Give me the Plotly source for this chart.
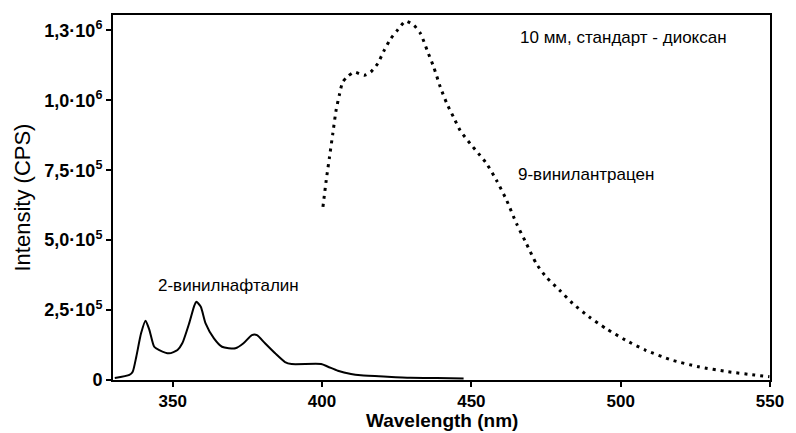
import plotly.graph_objects as go

# 2-vinylnaphthalene (solid)
vn_x = [330.6, 335.5, 336.6, 337.8, 339.4, 340.9, 342.2, 343.8, 345.5, 348.8, 351.6, 353.2,
        355.5, 357.1, 357.9, 359.4, 361.0, 363.8, 366.5, 371.0, 373.7, 376.5, 378.2, 380.9,
        384.3, 387.6, 389.8, 399.7, 402.0, 405.3, 409.7, 413.0, 421.9, 429.6, 438.5, 447.4]
vn_y = [7100, 17900, 29600, 83200, 166800, 211800, 178600, 118900, 107100, 95300, 107100, 131100,
        202500, 261800, 279600, 261800, 202500, 148900, 118900, 113200, 131100, 160700, 160700, 131100,
        95300, 64300, 57100, 57100, 47500, 33200, 21400, 16800, 11800, 8200, 7100, 5400]

# 9-vinylanthracene (dotted)
va_x = [400.3, 401.4, 402.5, 403.6, 404.7, 405.9, 406.9, 408.6, 410.8, 414.2, 416.3, 418.6,
        420.8, 423.0, 425.2, 428.0, 430.8, 433.0, 435.2, 437.4, 439.6, 441.8, 444.0, 446.2,
        449.6, 452.4, 455.1, 458.4, 461.8, 465.1, 468.4, 471.7, 475.0, 479.5, 483.9, 489.4,
        495.0, 501.6, 508.2, 517.1, 526.0, 535.9, 544.8, 549.8]
va_y = [618900, 714200, 797400, 881000, 964200, 1023800, 1065300, 1085600, 1101000, 1089200, 1101000, 1130900,
        1178400, 1220200, 1249900, 1283100, 1267700, 1238100, 1178400, 1118800, 1047400, 988100, 940300, 892800,
        845200, 809500, 773800, 714200, 642800, 559600, 488200, 416800, 368900, 321400, 273900, 226100,
        184600, 142800, 107100, 71400, 47500, 29600, 17900, 11800]

x_ticks = [350, 400, 450, 500, 550]
y_ticks = [0, 250000, 500000, 750000, 1000000, 1250000]
y_ticktext = ["0", "2,5·10<sup>5</sup>", "5,0·10<sup>5</sup>", "7,5·10<sup>5</sup>",
              "1,0·10<sup>6</sup>", "1,3·10<sup>6</sup>"]

fig = go.Figure()
fig.add_trace(go.Scatter(x=vn_x, y=vn_y, mode="lines",
                         line=dict(color="black", width=2, shape="spline", smoothing=0.6),
                         showlegend=False))
fig.add_trace(go.Scatter(x=va_x, y=va_y, mode="lines",
                         line=dict(color="black", width=3, dash="3px,5px", shape="spline",
                                   smoothing=0.6),
                         showlegend=False))

font = "Liberation Sans, Arial, sans-serif"
fig.update_layout(
    width=796, height=433,
    margin=dict(l=113, r=20, t=15, b=53),
    plot_bgcolor="white", paper_bgcolor="white",
    font=dict(family=font, color="black"),
    xaxis=dict(range=[330, 550], tickvals=x_ticks, ticks="outside", ticklen=5, tickwidth=2,
               tickcolor="black", showline=True, linecolor="black", linewidth=2, mirror=True,
               showgrid=False, zeroline=False,
               tickfont=dict(size=17, weight="bold", family=font)),
    yaxis=dict(range=[0, 1305000], tickvals=y_ticks, ticktext=y_ticktext, ticks="outside",
               ticklen=5, tickwidth=2, tickcolor="black", showline=True, linecolor="black",
               linewidth=2, mirror=True, showgrid=False, zeroline=False,
               tickfont=dict(size=18, weight="bold", family=font)),
    annotations=[
        dict(text="Wavelength (nm)", xref="paper", yref="paper", x=0.5, y=-0.145,
             xanchor="center", yanchor="bottom", showarrow=False,
             font=dict(size=19, weight="bold", family=font)),
        dict(text="Intensity (CPS)", xref="paper", yref="paper", x=-0.137, y=0.5,
             xanchor="center", yanchor="middle", textangle=-90, showarrow=False,
             font=dict(size=22, family=font)),
        dict(text="2-винилнафталин", x=344.5, y=339000, xanchor="left", yanchor="middle",
             showarrow=False, font=dict(size=17, family=font)),
        dict(text="10 мм, стандарт - диоксан", x=465.6, y=1226000, xanchor="left",
             yanchor="middle", showarrow=False, font=dict(size=17, family=font)),
        dict(text="9-винилантрацен", x=465.1, y=735600, xanchor="left", yanchor="middle",
             showarrow=False, font=dict(size=17, family=font)),
    ],
)

fig.write_html("out.html")
